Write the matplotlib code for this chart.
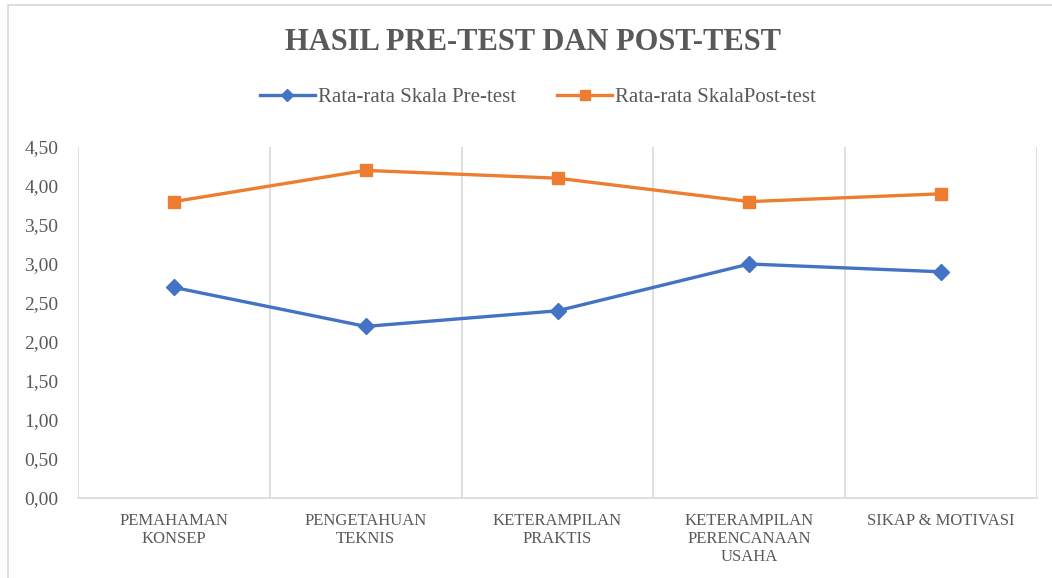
import numpy as np
import matplotlib
matplotlib.use('Agg')
import matplotlib.pyplot as plt
from matplotlib.patches import Rectangle
from matplotlib.ticker import FuncFormatter, FixedLocator

# data
categories = ['PEMAHAMAN\nKONSEP', 'PENGETAHUAN\nTEKNIS', 'KETERAMPILAN\nPRAKTIS',
              'KETERAMPILAN\nPERENCANAAN\nUSAHA', 'SIKAP & MOTIVASI']
pre_test = [2.7, 2.2, 2.4, 3.0, 2.9]
post_test = [3.8, 4.2, 4.1, 3.8, 3.9]
y_ticks = [0, 0.5, 1.0, 1.5, 2.0, 2.5, 3.0, 3.5, 4.0, 4.5]

plt.rcParams['font.family'] = ['Liberation Serif', 'DejaVu Serif']
text_gray = '#595959'

fig = plt.figure(figsize=(10.52, 5.78), dpi=100)
fig.patches.append(Rectangle((8 / 1052, -0.01), 1.0, 1 - 5 / 578 + 0.01,
                             transform=fig.transFigure, fill=False,
                             edgecolor='#d9d9d9', linewidth=1.2))
ax = fig.add_axes([78 / 1052, 1 - 498 / 578, (1037 - 78) / 1052, (498 - 147) / 578])

x = np.arange(len(categories))
ax.plot(x, pre_test, color='#4472C4', linewidth=2.4, marker='D', markersize=8,
        label='Rata-rata Skala Pre-test')
ax.plot(x, post_test, color='#ED7D31', linewidth=2.4, marker='s', markersize=9,
        label='Rata-rata SkalaPost-test')

ax.set_xlim(-0.5, len(categories) - 0.5)
ax.set_ylim(0, 4.5)
ax.set_yticks(y_ticks)
ax.yaxis.set_major_formatter(FuncFormatter(lambda v, p: f'{v:.2f}'.replace('.', ',')))
ax.set_xticks(x)
ax.set_xticklabels(categories, fontsize=12, color=text_gray, linespacing=1.15,
                   va='top')
ax.xaxis.set_minor_locator(FixedLocator(np.arange(-0.5, len(categories), 1.0)))
ax.grid(True, which='minor', axis='x', color='#d9d9d9', linewidth=1.2)
ax.tick_params(axis='both', which='both', length=0)
ax.tick_params(axis='x', pad=11)
ax.tick_params(axis='y', labelsize=14, labelcolor=text_gray, pad=14)
for s in ['top', 'right', 'left']:
    ax.spines[s].set_visible(False)
ax.spines['bottom'].set_color('#d9d9d9')
ax.spines['bottom'].set_linewidth(1.2)

fig.text(533 / 1052, 1 - 42 / 578, 'HASIL PRE-TEST DAN POST-TEST', ha='center', va='center',
         fontsize=22, fontweight='bold', color=text_gray)
fig.legend(loc='center', bbox_to_anchor=(538 / 1052, 1 - 97 / 578), ncol=2, frameon=False,
           fontsize=15, handlelength=2.6, columnspacing=2.0, handletextpad=0.15,
           markerscale=0.75, labelcolor=text_gray)

fig.savefig('out.png', dpi=100)
